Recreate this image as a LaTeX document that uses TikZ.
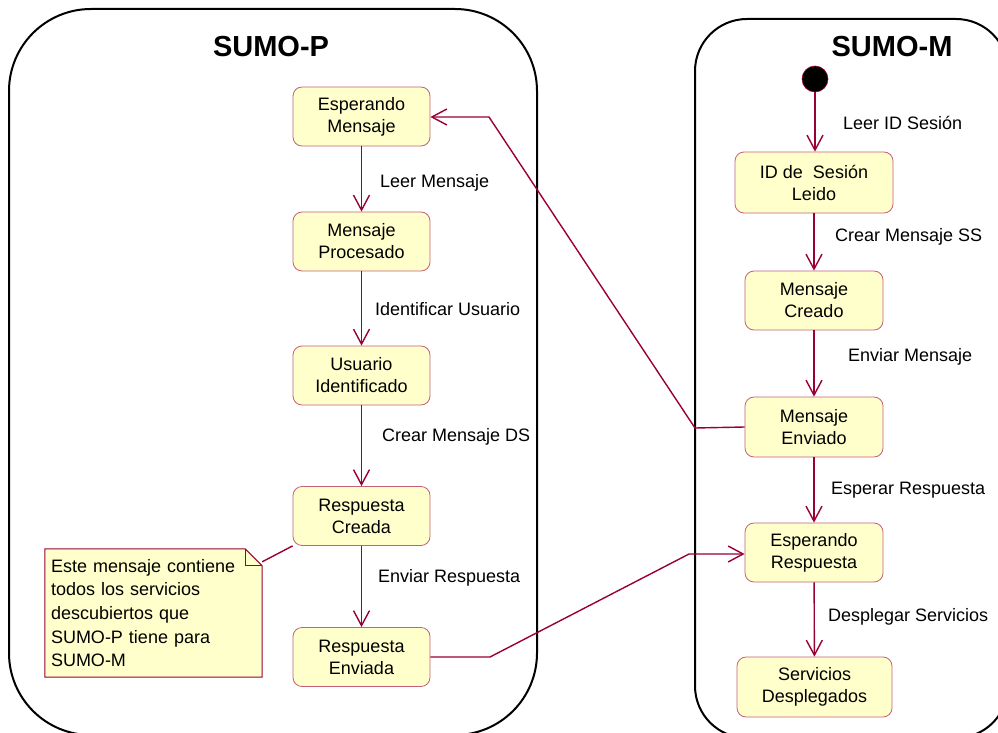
\documentclass[tikz,border=0pt]{standalone}
\usepackage{fontspec}
\setmainfont{Liberation Sans}
\usetikzlibrary{arrows.meta,backgrounds}

\definecolor{wire}{RGB}{153,0,51}
\definecolor{stfill}{RGB}{255,255,204}
\definecolor{stedge}{RGB}{196,96,120}

\begin{document}
\begin{tikzpicture}[x=1pt,y=-1pt,
  state/.style={draw=stedge, fill=stfill, rounded corners=9pt, line width=0.8pt,
    minimum width=137pt, minimum height=59pt, align=center, inner sep=0pt,
    font=\fontsize{18}{22}\selectfont},
  trans/.style={draw=wire, line width=1.4pt, -{Straight Barb[length=15pt,width=16pt]}},
  link/.style={draw=wire, line width=1.4pt},
  lbl/.style={anchor=west, inner sep=0pt, font=\fontsize{18}{22}\selectfont},
  lane/.style={draw=black, line width=2pt},
  title/.style={inner sep=0pt, font=\fontsize{29}{31}\selectfont\bfseries}]

\useasboundingbox (0,0) rectangle (998,733);

% swimlanes
\begin{scope}
  \clip (0,0) rectangle (998,733);
  \draw[lane, rounded corners=82pt] (9,9) rectangle (537,735);
  \draw[lane, rounded corners=52pt] (695,19) rectangle (1008,738);
\end{scope}

\node[title] (tp) at (271,47) {SUMO-P};
\node[title] (tm) at (892,47) {SUMO-M};

% SUMO-P states
\node[state] (em) at (361.5,116.5) {Esperando\\Mensaje};
\node[state] (mp) at (361.5,241.5) {Mensaje\\Procesado};
\node[state] (ui) at (361.5,375.5) {Usuario\\Identificado};
\node[state] (rc) at (361.5,516) {Respuesta\\Creada};
\node[state] (re) at (361.5,657) {Respuesta\\Enviada};

\draw[trans] (em) -- (mp);
\draw[trans] (mp) -- (ui);
\draw[trans] (ui) -- (rc);
\draw[trans] (rc) -- (re);

\node[lbl] (t1) at (380,183) {Leer Mensaje};
\node[lbl] (t2) at (375,309) {Identificar Usuario};
\node[lbl] (t3) at (382,437) {Crear Mensaje DS};
\node[lbl] (t4) at (378,578) {Enviar Respuesta};

% SUMO-M states
\node[circle, fill=black, draw=wire, line width=0.6pt, minimum size=26pt, inner sep=0pt] (ini) at (815,79) {};
\node[state, minimum width=158pt, minimum height=61pt] (il) at (814,182.5) {ID de\ \ Sesión\\Leido};
\node[state, minimum width=138pt] (mc) at (814,300.5) {Mensaje\\Creado};
\node[state, minimum width=138pt, minimum height=60pt] (mv) at (814,427) {Mensaje\\Enviado};
\node[state, minimum width=138pt] (er) at (814,552.5) {Esperando\\Respuesta};
\node[state, minimum width=155pt, minimum height=60pt] (sd) at (814.5,687) {Servicios\\Desplegados};

\draw[trans] (ini.south) -- (ini.south |- il.north);
\draw[trans] (il) -- (mc);
\draw[trans] (mc) -- (mv);
\draw[trans] (mv) -- (er);
\draw[trans] (er) -- (sd);

\node[lbl] (t5) at (843,123) {Leer ID Sesión};
\node[lbl] (t6) at (835,237) {Crear Mensaje SS};
\node[lbl] (t7) at (848,357) {Enviar Mensaje};
\node[lbl] (t8) at (831,490) {Esperar Respuesta};
\node[lbl] (t9) at (828,617) {Desplegar Servicios};

% messages between the two lanes
\coordinate (k1) at (695,428);
\coordinate (k2) at (489,117);
\draw[trans] (mv.west) -- (k1) -- (k2) -- (em.east |- k2);

\coordinate (k3) at (490,657);
\coordinate (k4) at (689,554);
\draw[trans] (re.east) -- (k3) -- (k4) -- (er.west |- k4);

% note
\node[text width=205pt, align=left, inner xsep=6pt, inner ysep=0pt,
  minimum height=128pt, font=\fontsize{18}{23.7}\selectfont] (note) at (153.5,613)
  {Este mensaje contiene\\todos los servicios\\descubiertos que\\SUMO-P tiene para\\SUMO-M};
\begin{pgfonlayer}{background}
  \draw[draw=wire, fill=stfill, line width=1pt]
    (note.south west) -- (note.north west) -- ([xshift=-17pt]note.north east)
    -- ([yshift=-17pt]note.north east) -- (note.south east) -- cycle;
  \draw[draw=wire, line width=1pt]
    ([xshift=-17pt]note.north east) -- ([xshift=-17pt,yshift=-17pt]note.north east)
    -- ([yshift=-17pt]note.north east);
\end{pgfonlayer}
\draw[link] ([yshift=-13pt]note.north east) -- (rc.south west);

\end{tikzpicture}
\end{document}
